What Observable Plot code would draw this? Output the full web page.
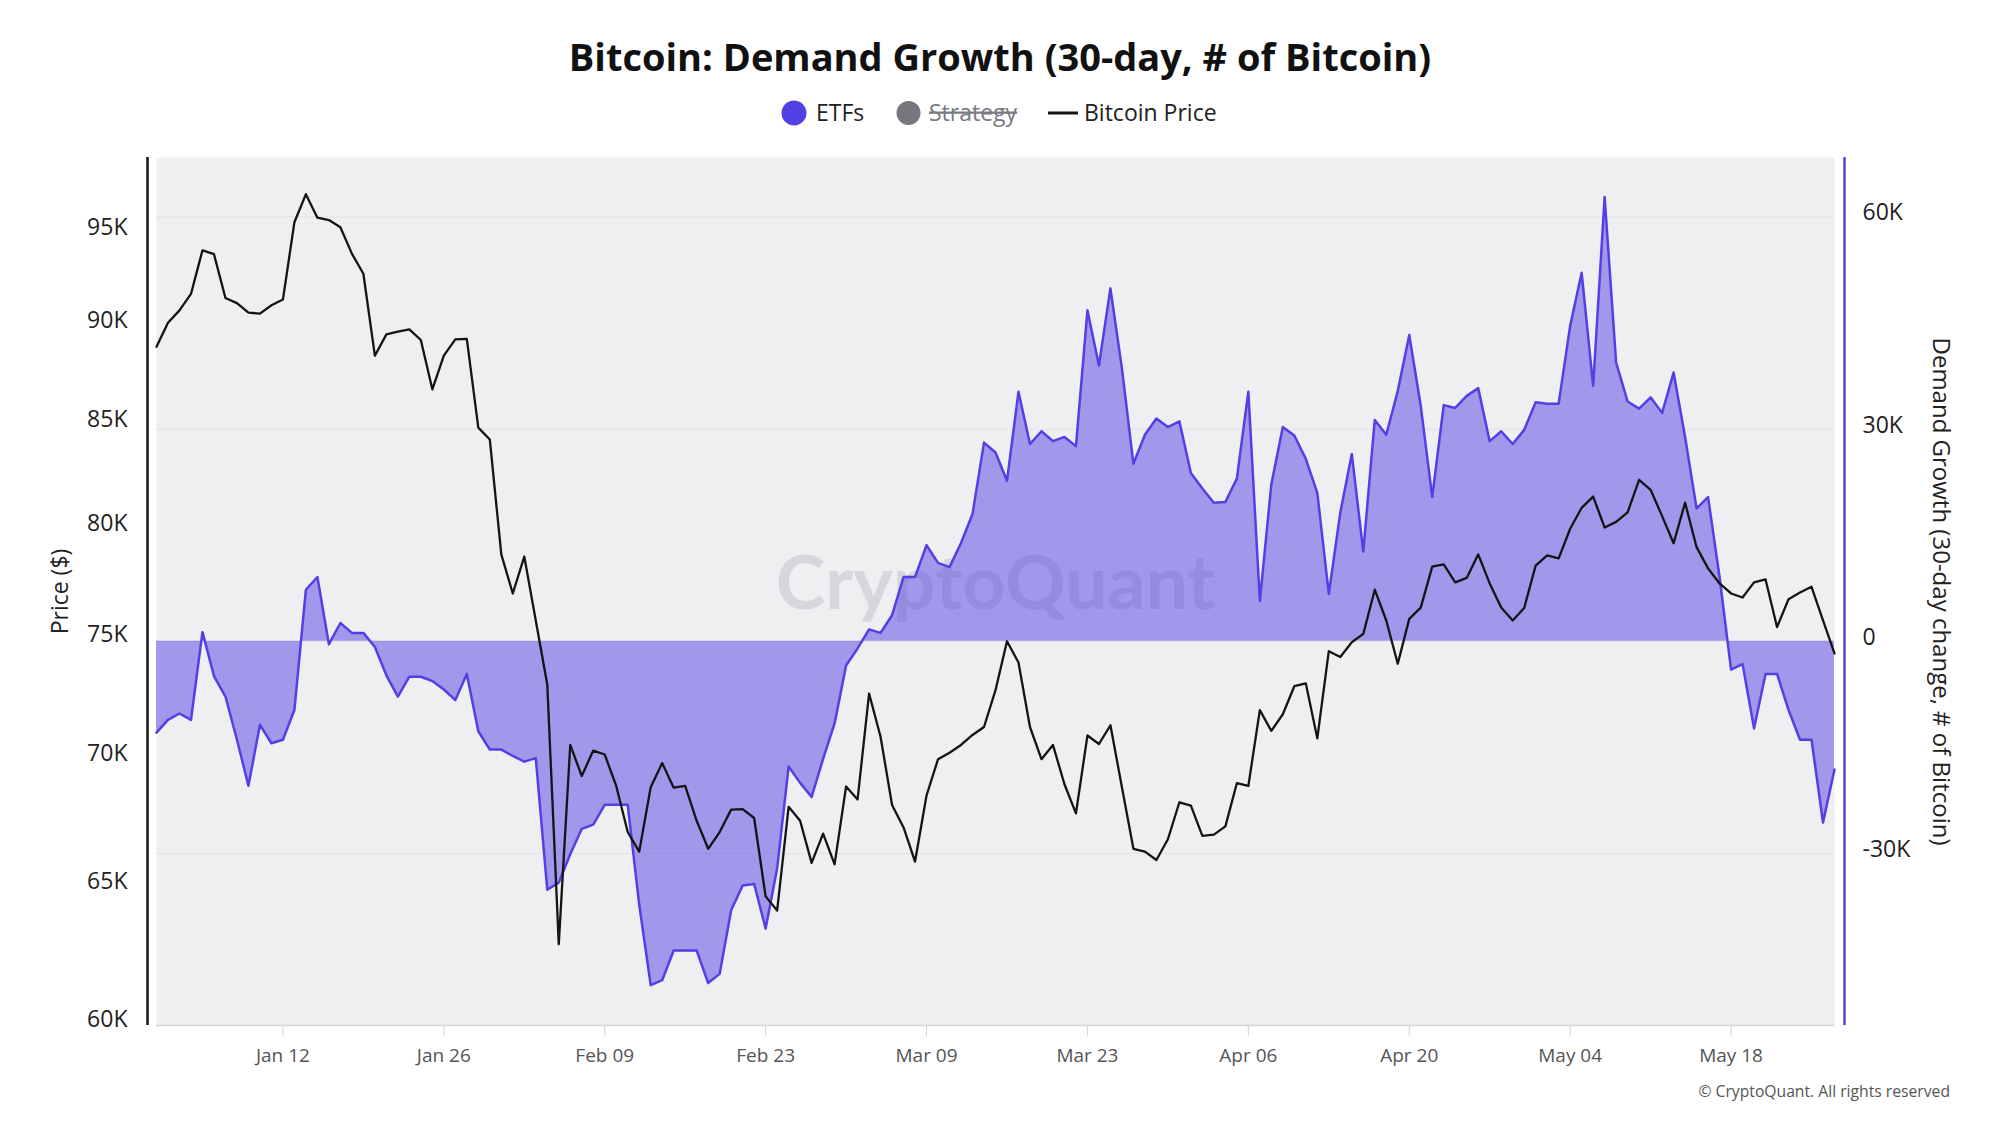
<!DOCTYPE html>
<html>
<head>
<meta charset="utf-8">
<script src="https://cdn.jsdelivr.net/npm/d3@7"></script>
<script src="https://cdn.jsdelivr.net/npm/@observablehq/plot@0.6"></script>
<style>
  html, body { margin: 0; padding: 0; background: #ffffff; }
  #chart { position: relative; width: 2000px; height: 1125px; overflow: hidden; font-family: "Open Sans", sans-serif; }
</style>
</head>
<body>
<div id="chart"></div>
<script>
// ---- data -------------------------------------------------------------
const titleText = "Bitcoin: Demand Growth (30-day, # of Bitcoin)";
const seriesNames = ["ETFs", "Strategy", "Bitcoin Price"];
const priceAxisLabel = "Price ($)";
const demandAxisLabel = "Demand Growth (30-day change, # of Bitcoin)";
const creditText = "© CryptoQuant. All rights reserved";
const watermarkText = "CryptoQuant";

const firstDay = "2026-01-01"; // one value per day from here

// ETF demand growth: 30-day change, # of BTC
const etfDemand = [
  -12900, -11100, -10200, -11100, 1300, -4900, -7800, -13900, -20400, -11800,
  -14400, -13900, -9700, 7300, 9100, -400, 2600, 1200, 1200, -800,
  -4800, -7800, -5000, -5000, -5600, -6800, -8300, -4600, -12700, -15300,
  -15300, -16200, -17000, -16500, -35100, -34100, -30100, -26500, -25900, -23100,
  -23100, -23100, -37200, -48600, -47900, -43700, -43700, -43700, -48300, -47000,
  -38000, -34500, -34300, -40600, -32100, -17700, -20000, -22000, -16600, -11600,
  -3400, -1000, 1700, 1200, 3700, 9100, 9100, 13600, 11100, 10500,
  13900, 18000, 28100, 26700, 22700, 35300, 27900, 29700, 28300, 28900,
  27600, 46800, 39000, 49900, 38600, 25100, 29200, 31500, 30300, 31100,
  23800, 21600, 19600, 19700, 23000, 35300, 5700, 22200, 30300, 29100,
  25800, 21000, 6700, 18200, 26500, 12700, 31300, 29200, 35400, 43300,
  33300, 20400, 33400, 33000, 34700, 35800, 28300, 29700, 27900, 29900,
  33800, 33600, 33600, 44600, 52100, 36100, 62800, 39400, 33900, 32900,
  34500, 32300, 38000, 28900, 18800, 20400, 9100, -4000, -3200, -12300,
  -4600, -4600, -9700, -13900, -13900, -25600, -18100
];

// Bitcoin daily price, USD
const btcPrice = [
  88970, 90220, 90870, 91740, 94090, 93880, 91520, 91250, 90750, 90700,
  91140, 91440, 95640, 97210, 95890, 95760, 95360, 93910, 92820, 88510,
  89610, 89760, 89870, 89320, 86800, 88510, 89350, 89380, 84890, 84310,
  78870, 77100, 78770, 75900, 73130, 62900, 70610, 69350, 70380, 70220,
  68950, 67130, 66370, 68900, 69870, 68880, 68950, 67570, 66480, 67130,
  68010, 68030, 67680, 64670, 64140, 68120, 67570, 65940, 67070, 65880,
  68930, 68410, 72750, 70950, 68190, 67310, 65990, 68570, 70030, 70290,
  70610, 71020, 71350, 72890, 74990, 74070, 71350, 70030, 70610, 69020,
  67860, 71000, 70650, 71420, 68900, 66480, 66370, 66050, 66850, 68300,
  68170, 66980, 67030, 67350, 69060, 68950, 72050, 71190, 71880, 73060,
  73180, 70880, 74560, 74310, 74950, 75310, 77270, 75900, 74020, 75970,
  76470, 78310, 78410, 77600, 77800, 78870, 77550, 76470, 75900, 76450,
  78360, 78820, 78690, 80050, 81030, 81560, 80110, 80370, 80820, 82360,
  81880, 80640, 79380, 81270, 79200, 78230, 77550, 77100, 76920, 77600,
  77730, 75610, 76840, 77140, 77400, 75900, 74460
];

const dateTicks = ["2026-01-12", "2026-01-26", "2026-02-09", "2026-02-23", "2026-03-09",
                   "2026-03-23", "2026-04-06", "2026-04-20", "2026-05-04", "2026-05-18"];
const priceTicks = [60000, 65000, 70000, 75000, 80000, 85000, 90000, 95000];
const demandTicks = [-30000, 0, 30000, 60000];

// ---- layout & style ---------------------------------------------------
const COLORS = {etf: "#5340e4", strategy: "#77767f", price: "#141414", panel: "#efeff2",
                grid: "#e2e2e7", baseline: "#d3d3da", text: "#222222", muted: "#555555"};
const W = 2000, H = 975, TOP = 130;
const frameMargins = {marginTop: 27, marginBottom: 80, marginLeft: 156, marginRight: 166};
const priceDomain = [60000, 99300];
const demandDomain = [-54300, 68400];

const start = new Date(firstDay + "T00:00:00Z");
const rows = etfDemand.map((v, i) => ({
  date: d3.utcDay.offset(start, i),
  demand: v,
  price: btcPrice[i]
}));
const xDomain = [rows[0].date, rows[rows.length - 1].date];
const kFormat = d => d === 0 ? "0" : `${d / 1000}K`;
const svgStyle = {position: "absolute", left: "0px", top: TOP + "px",
                  background: "transparent", overflow: "visible", fontFamily: "'Open Sans', sans-serif"};

const chart = document.getElementById("chart");

// Demand panel: background, grid, ETF area, right axis, date axis
const demandPlot = Plot.plot({
  width: W, height: H, ...frameMargins,
  style: svgStyle,
  x: {type: "utc", domain: xDomain},
  y: {type: "linear", domain: demandDomain},
  marks: [
    Plot.frame({fill: COLORS.panel, stroke: "none"}),
    Plot.ruleY(demandTicks, {stroke: COLORS.grid, strokeWidth: 1}),
    Plot.text([watermarkText], {frameAnchor: "middle", dy: -7, fontSize: 75, fontFamily: "Lato",
      fontWeight: 700, fill: "#c4c4cf", fillOpacity: 0.6}),
    Plot.areaY(rows, {x: "date", y: "demand", fill: COLORS.etf, fillOpacity: 0.5}),
    Plot.lineY(rows, {x: "date", y: "demand", stroke: COLORS.etf, strokeWidth: 2.5}),
    Plot.ruleY([demandDomain[0]], {stroke: COLORS.baseline, strokeWidth: 1.5}),
    Plot.axisX({ticks: dateTicks.map(d => new Date(d + "T00:00:00Z")), tickFormat: d3.utcFormat("%b %d"),
      tickSize: 11, tickPadding: 12, stroke: COLORS.baseline, fill: COLORS.muted, fontSize: 19, label: null}),
    Plot.ruleX([xDomain[1]], {dx: 10, stroke: COLORS.etf, strokeWidth: 2.5}),
    Plot.axisY({ticks: demandTicks, anchor: "right", tickSize: 0, tickPadding: 28, tickFormat: kFormat,
      fontSize: 23, fill: COLORS.text, dy: -4, label: null}),
    Plot.text([demandAxisLabel], {frameAnchor: "right", rotate: 90, dx: 106, textAnchor: "middle",
      lineAnchor: "middle", fontSize: 24, fill: COLORS.text})
  ]
});
chart.appendChild(demandPlot);

// Price panel: log scale on the left, drawn over the demand panel
const pricePlot = Plot.plot({
  width: W, height: H, ...frameMargins,
  style: svgStyle,
  x: {type: "utc", domain: xDomain, axis: null},
  y: {type: "log", domain: priceDomain},
  marks: [
    Plot.lineY(rows, {x: "date", y: "price", stroke: COLORS.price, strokeWidth: 2.3}),
    Plot.ruleX([xDomain[0]], {dx: -9, stroke: COLORS.price, strokeWidth: 2.5}),
    Plot.axisY({ticks: priceTicks, anchor: "left", tickSize: 0, tickPadding: 29, tickFormat: kFormat,
      fontSize: 23, fill: COLORS.text, dy: -6, label: null}),
    Plot.text([priceAxisLabel], {frameAnchor: "left", rotate: -90, dx: -96, textAnchor: "middle",
      lineAnchor: "middle", fontSize: 23, fill: COLORS.text})
  ]
});
chart.appendChild(pricePlot);

// Title, legend and credit line
const deco = d3.create("svg")
  .attr("width", W).attr("height", 1125)
  .style("position", "absolute").style("left", "0px").style("top", "0px")
  .style("pointer-events", "none")
  .style("font-family", "'Open Sans', sans-serif");

deco.append("text")
  .attr("x", 1000).attr("y", 71).attr("text-anchor", "middle")
  .attr("font-size", 38).attr("font-weight", 700).attr("fill", "#111")
  .text(titleText);

const legend = deco.append("g").attr("font-size", 23);
legend.append("circle").attr("cx", 794).attr("cy", 113).attr("r", 12.5).attr("fill", COLORS.etf);
legend.append("text").attr("x", 816).attr("y", 121).attr("fill", COLORS.text).text(seriesNames[0]);
legend.append("circle").attr("cx", 908.5).attr("cy", 113).attr("r", 12).attr("fill", COLORS.strategy);
legend.append("text").attr("x", 929).attr("y", 121).attr("fill", "#7a7a82")
  .style("text-decoration", "line-through").text(seriesNames[1]);
legend.append("line").attr("x1", 1048).attr("x2", 1078).attr("y1", 113).attr("y2", 113)
  .attr("stroke", COLORS.price).attr("stroke-width", 3);
legend.append("text").attr("x", 1084).attr("y", 121).attr("fill", COLORS.text).text(seriesNames[2]);

deco.append("text")
  .attr("x", 1950).attr("y", 1097).attr("text-anchor", "end")
  .attr("font-size", 15.7).attr("fill", COLORS.muted)
  .text(creditText);

chart.appendChild(deco.node());
</script>
</body>
</html>
